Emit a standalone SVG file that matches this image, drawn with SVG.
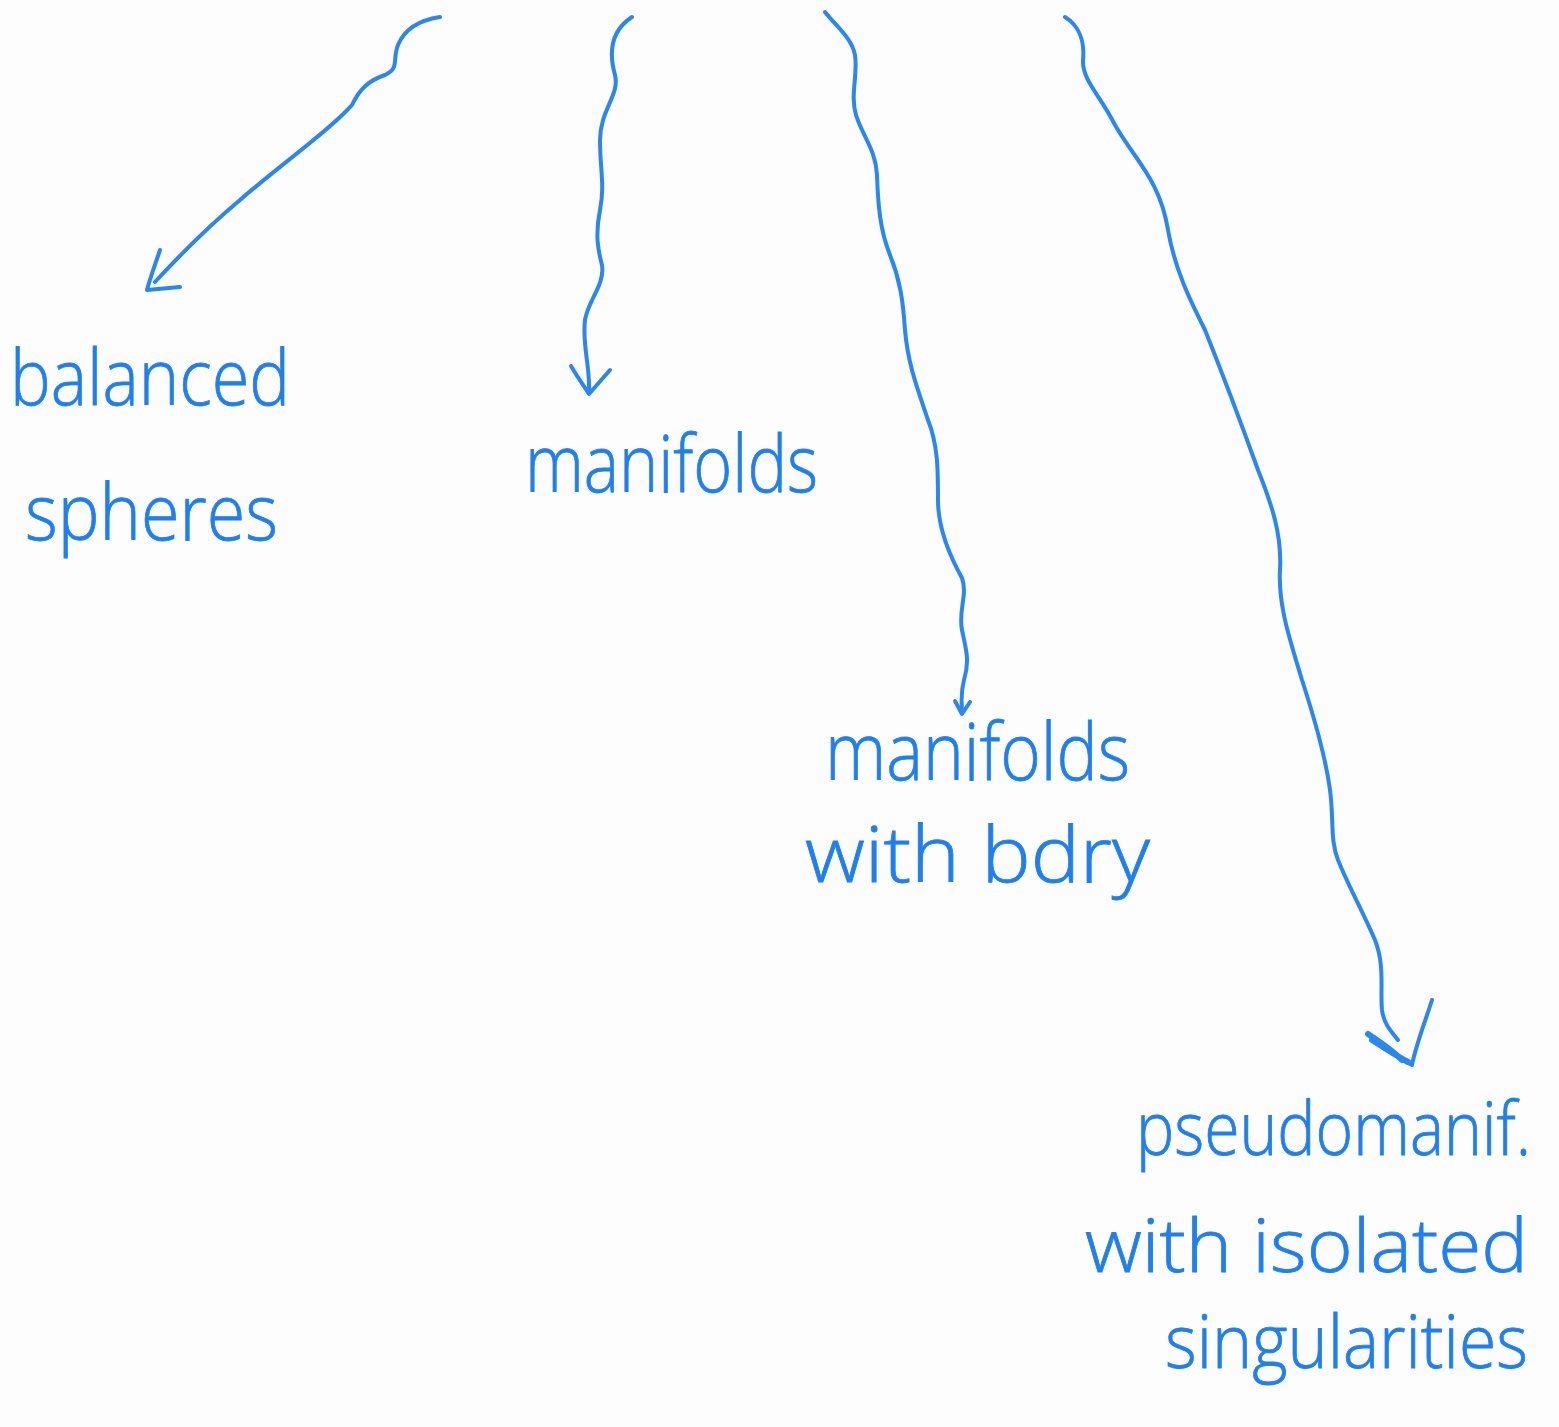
<svg xmlns="http://www.w3.org/2000/svg" width="1559" height="1427" viewBox="0 0 1559 1427">
<style>
.ink{fill:none;stroke:#2a86f0;stroke-width:4;stroke-linecap:round;stroke-linejoin:round}
.lbl{font-family:"Open Sans","Lato","Liberation Sans",sans-serif;font-weight:300;fill:#1f7ff0;stroke:#1f7ff0;stroke-width:0.8}
</style>
<rect width="1559" height="1427" fill="#fdfdfd"/>
<g id="connectors">
<g id="arrow-balanced">
<path class="ink" d="M440,17 C420,20 405,28 398,45 C392,60 400,68 385,75 C370,80 360,88 352,105 C330,130 280,165 240,200 C210,225 180,255 155,282"/>
<path class="ink" d="M160,250 C155,265 150,278 147,290 L180,287"/>
</g>
<g id="arrow-manifolds">
<path class="ink" d="M632,17 C612,30 608,50 615,75 C620,95 600,110 600,140 C600,170 605,185 600,210 C595,235 598,250 602,265 C605,285 588,300 585,320 C582,345 590,365 589,390"/>
<path class="ink" d="M571,366 C578,378 584,386 589,394 C596,386 603,378 610,370"/>
</g>
<g id="arrow-bdry">
<path class="ink" d="M825,12 C835,25 852,38 855,55 C858,75 850,95 856,115 C862,135 876,150 877,175 C878,205 880,230 890,255 C900,280 903,300 905,330 C908,365 918,390 928,420 C938,445 938,470 938,500 C938,530 952,560 962,578 C968,595 958,610 962,630 C966,650 970,660 964,680 C960,695 962,705 962,712"/>
<path class="ink" d="M955,701 L962,714 L970,702"/>
</g>
<g id="arrow-pseudo">
<path class="ink" d="M1065,17 C1078,25 1085,40 1083,60 C1082,80 1100,95 1115,125 C1135,160 1160,180 1168,230 C1175,270 1190,300 1205,330 C1225,380 1240,420 1258,470 C1272,505 1282,535 1280,570 C1278,605 1290,640 1302,680 C1315,720 1326,760 1330,790 C1334,820 1330,840 1338,860 C1348,885 1362,910 1375,940 C1385,965 1380,990 1382,1010 C1384,1025 1392,1032 1398,1040"/>
<path class="ink" d="M1368,1034 C1380,1042 1392,1050 1402,1060 M1372,1040 C1385,1048 1395,1055 1408,1062" style="stroke-width:6"/>
<path class="ink" d="M1432,1000 C1424,1025 1416,1045 1412,1065 C1400,1058 1390,1052 1380,1046"/>
</g>
</g>
<g id="node-balanced-spheres">
<text class="lbl" x="10" y="405" font-size="78" textLength="280" lengthAdjust="spacingAndGlyphs">balanced</text>
<text class="lbl" x="25" y="540" font-size="78" textLength="253" lengthAdjust="spacingAndGlyphs">spheres</text>
</g>
<g id="node-manifolds">
<text class="lbl" x="525" y="492" font-size="80" textLength="293" lengthAdjust="spacingAndGlyphs">manifolds</text>
</g>
<g id="node-manifolds-bdry">
<text class="lbl" x="825" y="780" font-size="80" textLength="305" lengthAdjust="spacingAndGlyphs">manifolds</text>
<text class="lbl" x="805" y="882" font-size="78" textLength="345" lengthAdjust="spacingAndGlyphs">with bdry</text>
</g>
<g id="node-pseudomanifolds">
<text class="lbl" x="1136" y="1155" font-size="74" textLength="395" lengthAdjust="spacingAndGlyphs">pseudomanif.</text>
<text class="lbl" x="1085" y="1272" font-size="74" textLength="443" lengthAdjust="spacingAndGlyphs">with isolated</text>
<text class="lbl" x="1165" y="1368" font-size="74" textLength="363" lengthAdjust="spacingAndGlyphs">singularities</text>
</g>
</svg>
